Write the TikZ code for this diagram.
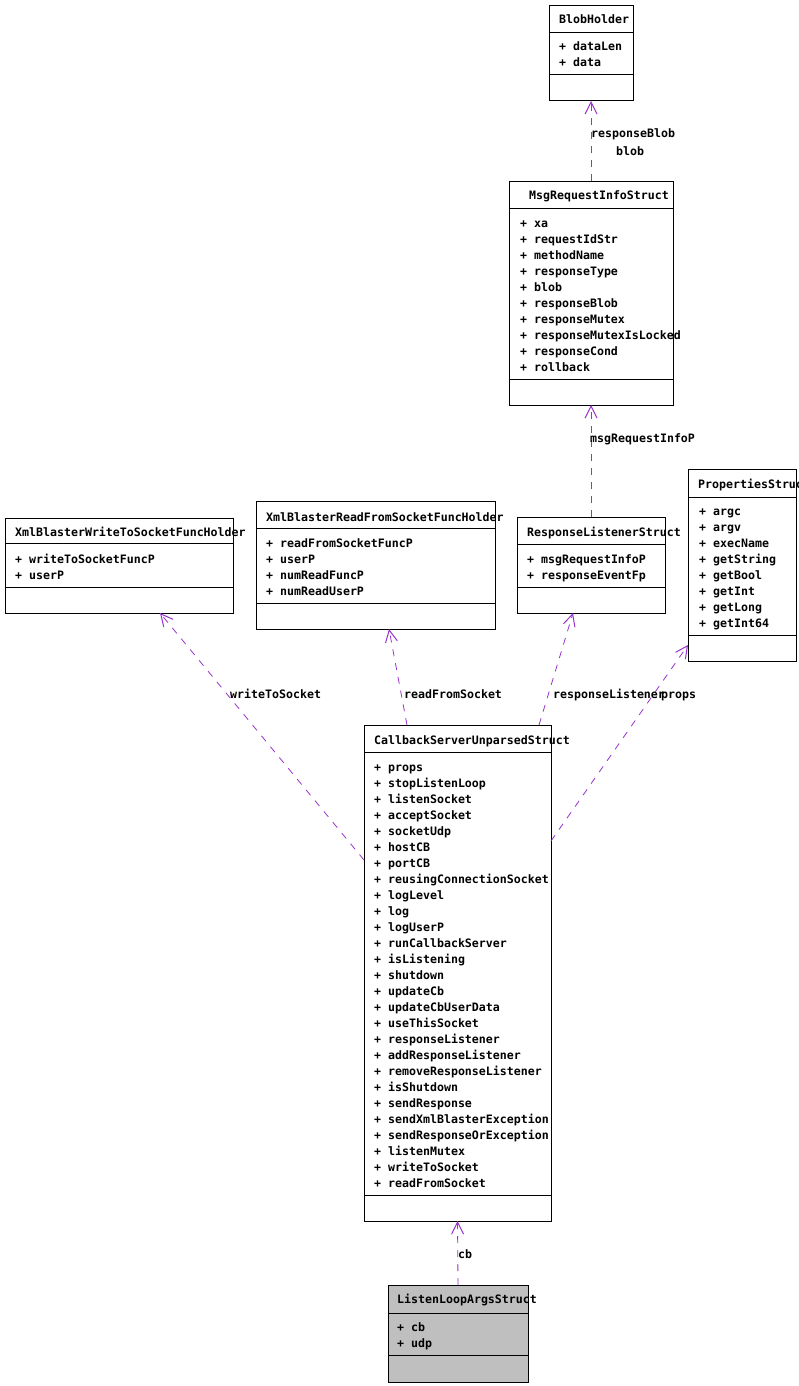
\documentclass[tikz,border=0pt]{standalone}
\usepackage{fontspec}
\setmonofont{DejaVu Sans Mono}
\usetikzlibrary{arrows.meta,calc}
\definecolor{edgecol}{RGB}{154,50,205}
\definecolor{boxgray}{RGB}{191,191,191}
\newcommand\umlclass[8]{%
  \node[cls, fill=#8, minimum width={#4-#2}, minimum height={#5-#3}] (#1) at (#2,#3) {};
  \draw[line width=1pt] (#2,#6) -- (#4,#6) (#2,#7) -- (#4,#7);}
\newcommand\attrlist[4]{%
  \foreach \a [count=\i] in {#4} {\node[txt] (#1\i) at (#2,{#3+16*(\i-1)}) {+ \a};}}
\begin{document}
\begin{tikzpicture}[x=1pt,y=-1pt,
  cls/.style={draw=black, line width=1pt, anchor=north west, inner sep=0pt, outer sep=0pt},
  txt/.style={font=\ttfamily\bfseries\fontsize{11.6}{14}\selectfont, inner sep=0pt, anchor=base west},
  rel/.style={draw=edgecol, line width=0.8pt, dash pattern=on 7pt off 7pt,
    -{Straight Barb[length=12pt,width=12pt,line width=1pt]}}]
\useasboundingbox[fill=white] (0,0) rectangle (799,1386);

% BlobHolder
\umlclass{blob}{549}{6}{633}{101}{33}{75}{white}
\node[txt] (blobT) at (559,24) {BlobHolder};
\attrlist{blobA}{559}{51}{dataLen,data}

% MsgRequestInfoStruct
\umlclass{msg}{509}{181}{673}{405}{208}{379}{white}
\node[txt] (msgT) at (529,199) {MsgRequestInfoStruct};
\attrlist{msgA}{520}{227}{xa,requestIdStr,methodName,responseType,blob,responseBlob,responseMutex,responseMutexIsLocked,responseCond,rollback}

% ResponseListenerStruct
\umlclass{resp}{517}{517}{665}{613}{544}{587}{white}
\node[txt] (respT) at (527,536) {ResponseListenerStruct};
\attrlist{respA}{527}{563}{msgRequestInfoP,responseEventFp}

% PropertiesStruct
\umlclass{props}{688}{469}{796}{661}{497}{635}{white}
\node[txt] (propsT) at (698,488) {PropertiesStruct};
\attrlist{propsA}{699}{515}{argc,argv,execName,getString,getBool,getInt,getLong,getInt64}

% XmlBlasterWriteToSocketFuncHolder
\umlclass{write}{5}{518}{233}{613}{543}{587}{white}
\node[txt] (writeT) at (15,536) {XmlBlasterWriteToSocketFuncHolder};
\attrlist{writeA}{15}{563}{writeToSocketFuncP,userP}

% XmlBlasterReadFromSocketFuncHolder
\umlclass{read}{256}{501}{495}{629}{528}{603}{white}
\node[txt] (readT) at (266,521) {XmlBlasterReadFromSocketFuncHolder};
\attrlist{readA}{266}{547}{readFromSocketFuncP,userP,numReadFuncP,numReadUserP}

% CallbackServerUnparsedStruct
\umlclass{cb}{364}{725}{551}{1221}{752}{1195}{white}
\node[txt] (cbT) at (374,744) {CallbackServerUnparsedStruct};
\attrlist{cbA}{374}{771}{props,stopListenLoop,listenSocket,acceptSocket,socketUdp,hostCB,portCB,reusingConnectionSocket,logLevel,log,logUserP,runCallbackServer,isListening,shutdown,updateCb,updateCbUserData,useThisSocket,responseListener,addResponseListener,removeResponseListener,isShutdown,sendResponse,sendXmlBlasterException,sendResponseOrException,listenMutex,writeToSocket,readFromSocket}

% ListenLoopArgsStruct
\umlclass{lla}{388}{1285}{528}{1382}{1313}{1355}{boxgray}
\node[txt] (llaT) at (397,1303) {ListenLoopArgsStruct};
\attrlist{llaA}{397}{1331}{cb,udp}

% connectors
\draw[rel] (msg.north) -- (blob.south);
\node[txt] (l1) at (591,138) {responseBlob};
\node[txt] (l2) at (616,155) {blob};

\draw[rel] (resp.north) -- (msg.south);
\node[txt] (l3) at (590,442) {msgRequestInfoP};

\draw[rel] ($(cb.north west)+(0,135)$) -- ($(write.south west)+(155,0)$);
\node[txt] (l4) at (230,698) {writeToSocket};

\draw[rel] ($(cb.north west)+(43,0)$) -- ($(read.south west)+(133,0)$);
\node[txt] (l5) at (404,698) {readFromSocket};

\draw[rel] ($(cb.north west)+(175,0)$) -- ($(resp.south west)+(56,0)$);
\node[txt] (l6) at (553,698) {responseListener};

\draw[rel] ($(cb.north east)+(0,116)$) -- ($(props.south west)+(0,-16)$);
\node[txt] (l7) at (661,698) {props};

\draw[rel] (lla.north) -- (cb.south);
\node[txt] (l8) at (458,1258) {cb};
\end{tikzpicture}
\end{document}
